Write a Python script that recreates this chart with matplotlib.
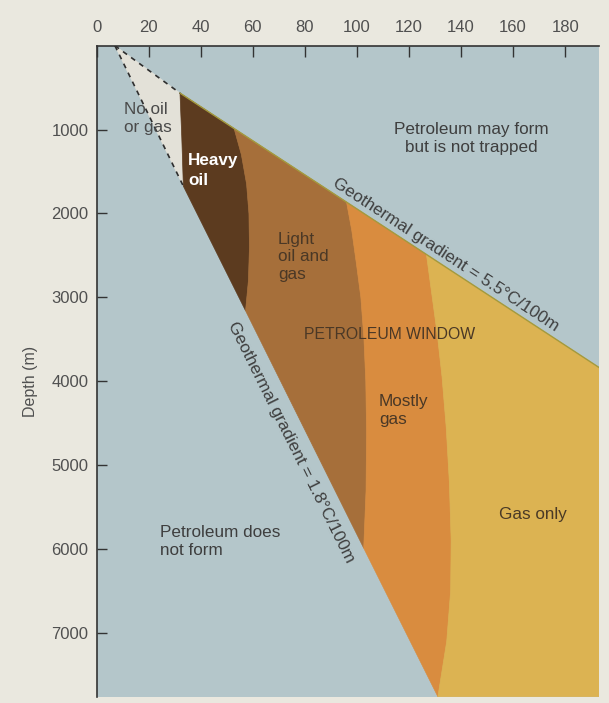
import numpy as np
import matplotlib
matplotlib.use("Agg")
import matplotlib.pyplot as plt
from matplotlib.patches import Polygon

plt.rcParams['font.family'] = ['Liberation Sans', 'DejaVu Sans']

# ---------------- data (temperature in °C, depth in m) ----------------
x_ticks = [0, 20, 40, 60, 80, 100, 120, 140, 160, 180]
y_ticks = [1000, 2000, 3000, 4000, 5000, 6000, 7000]
x_max = 193
depth_max = 7761

# geothermal gradient lines (hot = 5.5°C/100m, cool = 1.8°C/100m)
hot_T = [7, 32, 193]
hot_d = [0, 565, 3836]
cool_T = [7, 33.3, 131.1]
cool_d = [0, 1675, 7761]

# zone boundaries, listed top -> bottom
nooil_T = [32.0, 32.7, 33.3]
nooil_d = [565, 1100, 1675]
heavy_T = [52.8, 55.6, 57.6, 58.5, 58.7, 58.3, 57.2]
heavy_d = [988, 1300, 1650, 2000, 2400, 2800, 3160]
light_T = [96.0, 98.0, 99.8, 101.5, 102.7, 103.4, 103.7, 103.5, 102.6]
light_d = [1865, 2200, 2600, 3000, 3500, 4000, 4600, 5300, 5990]
gas_T = [126.7, 128.6, 130.9, 132.7, 134.3, 135.5, 136.2, 136.0, 134.5, 131.1]
gas_d = [2489, 2924, 3450, 3950, 4550, 5200, 5900, 6500, 7100, 7761]

zone_colors = {
    'nooil': '#e3e1d8',
    'heavy': '#5c3b1f',
    'light': '#a66f3a',
    'mostly': '#d98c3f',
    'gasonly': '#dcb352',
}
bg_blue = '#b4c6ca'
page = '#eae8df'
txt = '#3e3e3e'

# ---------------- figure ----------------
fig = plt.figure(figsize=(6.09, 7.03), dpi=100, facecolor=page)
ax = fig.add_axes([96.7 / 609, 1 - 696.7 / 703, (599 - 96.7) / 609, (696.7 - 45.7) / 703])
ax.set_facecolor(bg_blue)
ax.set_xlim(0, x_max)
ax.set_ylim(depth_max, 0)


def pts(T, d):
    return list(zip(T, d))


nooil = pts(nooil_T, nooil_d)
heavy = pts(heavy_T, heavy_d)
light = pts(light_T, light_d)
gas = pts(gas_T, gas_d)

polys = [
    ([(hot_T[0], hot_d[0])] + nooil, zone_colors['nooil']),
    (nooil + heavy[::-1], zone_colors['heavy']),
    (heavy + light[::-1], zone_colors['light']),
    (light + gas[::-1], zone_colors['mostly']),
    (gas + [(x_max, depth_max), (x_max, hot_d[-1])], zone_colors['gasonly']),
]
for verts, col in polys:
    ax.add_patch(Polygon(verts, closed=True, facecolor=col, edgecolor=col, lw=0.5, zorder=1))

# gradient lines
ax.plot(hot_T[1:], hot_d[1:], color='#a39a3e', lw=1.0, zorder=2)
ax.plot(hot_T[:2], hot_d[:2], color='#2e2e2e', lw=1.2, ls=(0, (3, 3)), zorder=3)
ax.plot(cool_T[:2], cool_d[:2], color='#2e2e2e', lw=1.2, ls=(0, (3, 3)), zorder=3)

# axes styling
for s in ['right', 'bottom']:
    ax.spines[s].set_visible(False)
for s in ['top', 'left']:
    ax.spines[s].set_color('#333333')
    ax.spines[s].set_linewidth(1.2)
ax.xaxis.tick_top()
ax.set_xticks(x_ticks)
ax.set_yticks(y_ticks)
ax.tick_params(axis='x', direction='in', length=8, width=1, color='#333333',
               labelsize=12, labelcolor='#505050', pad=8)
ax.tick_params(axis='y', direction='in', length=7, width=1, color='#333333',
               labelsize=12, labelcolor='#505050', pad=6)

fig.text(30 / 609, 1 - 381 / 703, 'Depth (m)', rotation=90, ha='center', va='center',
         fontsize=11.5, color='#505050')

fs = 12.3
ls = 1.22
ax.text(10.5, 866, 'No oil\nor gas', ha='left', va='center', fontsize=fs, color='#4a4a4a',
        linespacing=ls, zorder=5)
ax.text(35.1, 1485, 'Heavy\noil', ha='left', va='center', fontsize=fs, color='white',
        fontweight='bold', linespacing=1.4, zorder=5)
ax.text(144, 1104, 'Petroleum may form\nbut is not trapped', ha='center', va='center',
        fontsize=fs, color=txt, linespacing=ls, zorder=5)
ax.text(69.6, 2519, 'Light\noil and\ngas', ha='left', va='center', fontsize=fs, color='#4a3826',
        linespacing=ls, zorder=5)
ax.text(112.6, 3447, 'PETROLEUM WINDOW', ha='center', va='center', fontsize=11.3, color='#4a3826',
        zorder=5)
ax.text(108.4, 4351, 'Mostly\ngas', ha='left', va='center', fontsize=fs, color='#4a3826',
        linespacing=ls, zorder=5)
ax.text(167.5, 5588, 'Gas only', ha='center', va='center', fontsize=fs, color='#4a3a26', zorder=5)
ax.text(24.3, 5909, 'Petroleum does\nnot form', ha='left', va='center', fontsize=fs, color=txt,
        linespacing=ls, zorder=5)


def screen_angle(T0, d0, T1, d1):
    p0 = ax.transData.transform((T0, d0))
    p1 = ax.transData.transform((T1, d1))
    return np.degrees(np.arctan2(p1[1] - p0[1], p1[0] - p0[0]))


a_hot = screen_angle(hot_T[1], hot_d[1], hot_T[2], hot_d[2])
a_cool = screen_angle(cool_T[0], cool_d[0], cool_T[2], cool_d[2])
ax.text(134.1, 2495, 'Geothermal gradient = 5.5°C/100m', rotation=a_hot, rotation_mode='anchor',
        ha='center', va='center', fontsize=fs, color=txt, zorder=5)
ax.text(74.7, 4732, 'Geothermal gradient = 1.8°C/100m', rotation=a_cool, rotation_mode='anchor',
        ha='center', va='center', fontsize=fs, color=txt, zorder=5)

fig.savefig('out.png', dpi=100, facecolor=page)
